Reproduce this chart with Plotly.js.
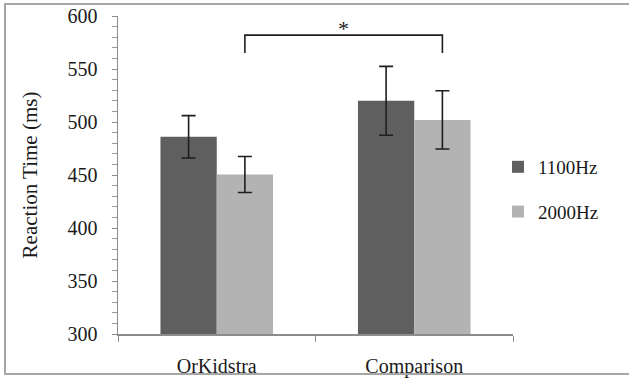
<!DOCTYPE html>
<html>
<head>
<meta charset="utf-8">
<script src="https://cdn.plot.ly/plotly-3.0.1.min.js"></script>
<style>
  html, body { margin: 0; padding: 0; background: #fff; }
  #wrap { position: relative; width: 629px; height: 379px; overflow: hidden; }
  #chart { width: 629px; height: 379px; }
  #frame { position: absolute; left: 4px; top: 3px; width: 640px; height: 372px;
           border: 2px solid #a6a6a6; pointer-events: none; box-sizing: border-box; }
</style>
</head>
<body>
<div id="wrap">
  <div id="chart"></div>
  <div id="frame"></div>
</div>
<script>
// ---- data ----
const categories = ['OrKidstra', 'Comparison'];
const seriesNames = ['1100Hz', '2000Hz'];
const mean1100 = [486, 520];
const err1100 = [20, 32.5];
const mean2000 = [450.5, 502];
const err2000 = [17, 27.5];
const yTickVals = [300, 350, 400, 450, 500, 550, 600];
const sigBracketY = 582;   // level of significance bracket
const sigBracketDrop = 17; // how far the ends drop
const sigLabel = '*';

// ---- style ----
const FONT = 'Liberation Serif, Times New Roman, serif';
const TXT = '#1a1a1a';
const colors = ['#5f5f5f', '#b3b3b3'];
const bargap = 0.43;

const traces = [
  {type: 'bar', name: seriesNames[0], x: categories, y: mean1100,
   marker: {color: colors[0]}, legendgroup: 'a',
   error_y: {type: 'data', array: err1100, visible: true, color: '#1e1e1e', thickness: 1.6, width: 7}},
  {type: 'bar', name: seriesNames[1], x: categories, y: mean2000,
   marker: {color: colors[1]}, legendgroup: 'b',
   error_y: {type: 'data', array: err2000, visible: true, color: '#1e1e1e', thickness: 1.6, width: 7}}
];

// bracket between the 2000Hz bars
const barW = (1 - bargap) / 2;
const off = barW / 2;
const xa = 0 + off, xb = 1 + off;
const yTop = sigBracketY, yLow = sigBracketY - sigBracketDrop;

const layout = {
  width: 629, height: 379,
  margin: {l: 118, r: 116, t: 16, b: 45},
  paper_bgcolor: '#fff', plot_bgcolor: '#fff',
  font: {family: FONT, size: 20, color: TXT},
  barmode: 'group', bargap: bargap, bargroupgap: 0,
  showlegend: true,
  legend: {x: 0.962, xanchor: 'left', y: 0.585, yanchor: 'top',
           font: {family: FONT, size: 19, color: TXT},
           tracegroupgap: 17, bgcolor: 'rgba(0,0,0,0)'},
  xaxis: {type: 'category', showline: true, linecolor: '#8c8c8c', linewidth: 1.5,
          ticks: 'outside', ticklen: 6, tickcolor: '#8c8c8c', tickson: 'boundaries',
          ticklabelstandoff: 13, showgrid: false, zeroline: false,
          tickfont: {family: FONT, size: 20, color: TXT}},
  yaxis: {range: [300, 600], tickvals: yTickVals, showline: true, linecolor: '#8c8c8c', linewidth: 1.5,
          ticks: 'outside', ticklen: 5, tickcolor: '#8c8c8c', showgrid: false, zeroline: false,
          minor: {dtick: 10, ticks: 'outside', ticklen: 5, tickcolor: '#9a9a9a', showgrid: false},
          ticklabelstandoff: 10,
          tickfont: {family: FONT, size: 20, color: TXT},
          title: {text: 'Reaction Time (ms)', font: {family: FONT, size: 21, color: TXT}, standoff: 24}},
  shapes: [
    {type: 'path', xref: 'x', yref: 'y',
     path: `M ${xa} ${yLow} L ${xa} ${yTop} L ${xb} ${yTop} L ${xb} ${yLow}`,
     line: {color: '#1e1e1e', width: 1.6}}
  ],
  annotations: [
    {xref: 'x', yref: 'y', x: (xa + xb) / 2, y: yTop, yanchor: 'bottom', yshift: -8,
     text: sigLabel, showarrow: false, font: {family: FONT, size: 22, color: TXT}}
  ]
};

Plotly.newPlot('chart', traces, layout, {displayModeBar: false, staticPlot: true});
</script>
</body>
</html>
